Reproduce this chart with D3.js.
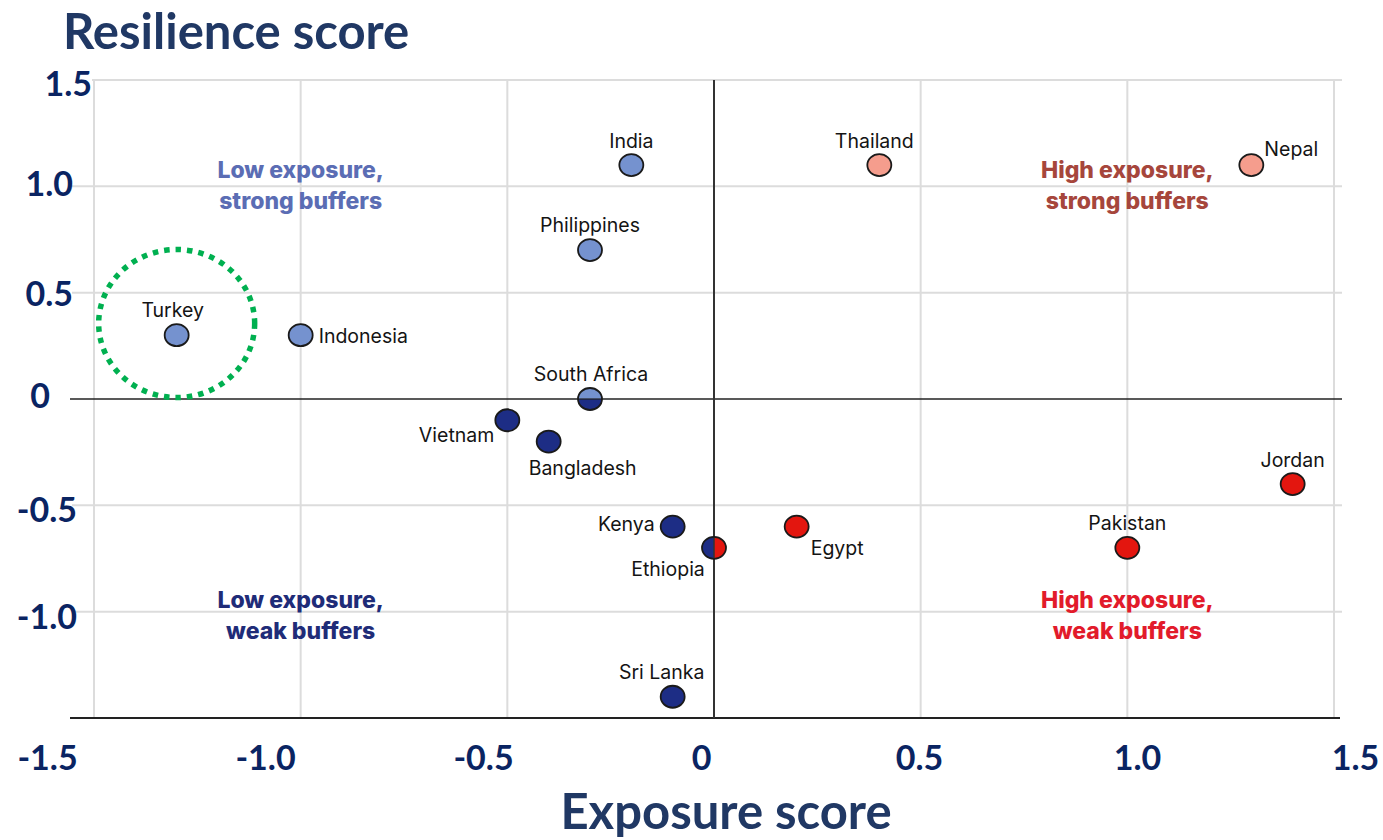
<!DOCTYPE html>
<html>
<head>
<meta charset="utf-8">
<script src="https://cdn.jsdelivr.net/npm/d3@7"></script>
<style>
  html, body { margin: 0; padding: 0; background: #fff; }
  svg { display: block; }
</style>
</head>
<body>
<svg id="chart" width="1383" height="840"></svg>
<script>
// ---------------- DATA ----------------
const countries  = ["India","Thailand","Nepal","Philippines","Turkey","Indonesia","South Africa","Vietnam","Bangladesh","Kenya","Ethiopia","Egypt","Pakistan","Jordan","Sri Lanka"];
const exposure   = [-0.2, 0.4, 1.3, -0.3, -1.3, -1.0, -0.3, -0.5, -0.4, -0.1, 0.0, 0.2, 1.0, 1.4, -0.1];
const resilience = [ 1.1, 1.1, 1.1,  0.7,  0.3,  0.3,  0.0, -0.1, -0.2, -0.6, -0.7, -0.6, -0.7, -0.4, -1.4];
// quadrant group of each country ("A/B" = split marker)
const groups     = ["LS","HS","HS","LS","LS","LS","LS/LW","LW","LW","LW","LW/HW","HW","HW","HW","LW"];

const xTicks = [-1.5, -1.0, -0.5, 0, 0.5, 1.0, 1.5];
const yTicks = [-1.0, -0.5, 0, 0.5, 1.0, 1.5];
const xTickLabels = ["-1.5","-1.0","-0.5","0","0.5","1.0","1.5"];
const yTickLabels = ["-1.0","-0.5","0","0.5","1.0","1.5"];

const quadrantKeys   = ["LS","HS","LW","HW"];
const quadrantLines  = [["Low exposure,","strong buffers"],["High exposure,","strong buffers"],["Low exposure,","weak buffers"],["High exposure,","weak buffers"]];
const quadrantAnchorX = [-1.0, 1.0, -1.0, 1.0];
const quadrantAnchorY = [1.0, 1.0, -1.0, -1.0];

const xTitle = "Exposure score";
const yTitle = "Resilience score";
const highlighted = "Turkey";

// ---------------- STYLE ----------------
const pointFill  = {LS:"#7592cf", HS:"#f59d8d", LW:"#1d2d85", HW:"#e3160f"};
const labelColor = {LS:"#5b6db4", HS:"#a6463c", LW:"#1f2c78", HW:"#e21b2b"};

const svg = d3.select("#chart");

const x = d3.scaleLinear().domain([-1.5, 1.5]).range([94, 1334]);
const y = d3.scaleLinear().domain([-1.5, 1.5]).range([718, 80]);
// outer tick-label axis (labels sit on their own slightly wider band)
const xLab = d3.scaleLinear().domain([-1.5, 1.5]).range([47, 1355]);

// grid
const grid = svg.append("g");
grid.selectAll("line.v").data(xTicks.filter(d => d !== 0)).join("line")
  .attr("x1", d => x(d)).attr("x2", d => x(d))
  .attr("y1", y(1.5)).attr("y2", y(-1.5))
  .attr("stroke", "#dcdcdc").attr("stroke-width", 2);
grid.selectAll("line.h").data(yTicks.filter(d => d !== 0)).join("line")
  .attr("x1", d => d === 1.5 ? x(-1.5) - 2 : 72).attr("x2", 1342)
  .attr("y1", d => y(d)).attr("y2", d => y(d))
  .attr("stroke", "#dcdcdc").attr("stroke-width", 2);

// axes lines
svg.append("line").attr("x1", 70).attr("x2", 1342).attr("y1", y(0)).attr("y2", y(0))
  .attr("stroke", "#222").attr("stroke-width", 1.6);
svg.append("line").attr("x1", 70).attr("x2", 1340).attr("y1", y(-1.5)).attr("y2", y(-1.5))
  .attr("stroke", "#222").attr("stroke-width", 2);
svg.append("line").attr("x1", x(0)).attr("x2", x(0)).attr("y1", y(1.5)).attr("y2", y(-1.5))
  .attr("stroke", "#333").attr("stroke-width", 2);

// tick labels - x
const xAxis = d3.axisBottom(xLab).tickValues(xTicks).tickSize(0)
  .tickFormat((d, i) => xTickLabels[i]);
const gx = svg.append("g").attr("transform", "translate(0,743)").call(xAxis);
gx.select(".domain").remove();
gx.selectAll("text")
  .attr("font-family", "Lato, 'Open Sans', sans-serif").attr("font-weight", 700)
  .attr("font-size", 34).attr("fill", "#0a2462").attr("y", 0).attr("dy", "0.8em");

// tick labels - y
const yAdj = {"1.5": [92, 4], "1": [73, -3], "0.5": [73, 1], "0": [50, -3], "-0.5": [77, 4], "-1": [77, 5]};
const yAxis = d3.axisLeft(y).tickValues(yTicks).tickSize(0)
  .tickFormat((d, i) => yTickLabels[i]);
const gy = svg.append("g").call(yAxis);
gy.select(".domain").remove();
gy.selectAll(".tick").attr("transform", d => `translate(${yAdj[String(d)][0]},${y(d) + yAdj[String(d)][1]})`);
gy.selectAll("text")
  .attr("font-family", "Lato, 'Open Sans', sans-serif").attr("font-weight", 700)
  .attr("font-size", 34).attr("fill", "#0a2462").attr("x", 0).attr("dy", "0.36em")
  .attr("text-anchor", "end");

// titles
svg.append("text").attr("x", 63).attr("y", 49).text(yTitle)
  .attr("font-family", "Lato, 'Open Sans', sans-serif").attr("font-weight", 700)
  .attr("font-size", 49).attr("fill", "#203864");
svg.append("text").attr("x", 726).attr("y", 829).attr("text-anchor", "middle").text(xTitle)
  .attr("font-family", "Lato, 'Open Sans', sans-serif").attr("font-weight", 700)
  .attr("font-size", 49).attr("fill", "#203864");

// quadrant labels
quadrantKeys.forEach((k, i) => {
  const top = quadrantAnchorY[i] > 0;
  const t = svg.append("text")
    .attr("x", x(quadrantAnchorX[i]))
    .attr("text-anchor", "middle")
    .attr("font-family", "Inter, 'Liberation Sans', sans-serif").attr("font-weight", 800)
    .attr("font-size", 23).attr("fill", labelColor[k]);
  quadrantLines[i].forEach((ln, j) => {
    t.append("tspan").attr("x", x(quadrantAnchorX[i]))
      .attr("y", y(quadrantAnchorY[i]) + (top ? -8 : -4) + j * 31).text(ln);
  });
});

// highlight ring
const hi = countries.indexOf(highlighted);
svg.append("ellipse")
  .attr("cx", x(exposure[hi])).attr("cy", y(resilience[hi] + 0.055))
  .attr("rx", 78).attr("ry", 74)
  .attr("fill", "none").attr("stroke", "#00b050").attr("stroke-width", 5.5)
  .attr("stroke-dasharray", "5.5 6");

// points
const rx = 12, ry = 11;
const pts = svg.append("g");
countries.forEach((c, i) => {
  const cx = x(exposure[i]), cy = y(resilience[i]);
  const g = groups[i];
  if (g.includes("/")) {
    const [a, b] = g.split("/");
    if (a === "LS") { // horizontal split: top / bottom
      pts.append("path").attr("d", `M${cx - rx},${cy} A${rx},${ry} 0 0 1 ${cx + rx},${cy} Z`).attr("fill", pointFill[a]);
      pts.append("path").attr("d", `M${cx - rx},${cy} A${rx},${ry} 0 0 0 ${cx + rx},${cy} Z`).attr("fill", pointFill[b]);
      pts.append("line").attr("x1", cx - rx).attr("x2", cx + rx).attr("y1", cy).attr("y2", cy).attr("stroke", "#222").attr("stroke-width", 1.2);
    } else { // vertical split: left / right
      pts.append("path").attr("d", `M${cx},${cy - ry} A${rx},${ry} 0 0 0 ${cx},${cy + ry} Z`).attr("fill", pointFill[a]);
      pts.append("path").attr("d", `M${cx},${cy - ry} A${rx},${ry} 0 0 1 ${cx},${cy + ry} Z`).attr("fill", pointFill[b]);
      pts.append("line").attr("x1", cx).attr("x2", cx).attr("y1", cy - ry).attr("y2", cy + ry).attr("stroke", "#333").attr("stroke-width", 1.5);
    }
    pts.append("ellipse").attr("cx", cx).attr("cy", cy).attr("rx", rx).attr("ry", ry)
      .attr("fill", "none").attr("stroke", "#1a1a1a").attr("stroke-width", 1.8);
  } else {
    pts.append("ellipse").attr("cx", cx).attr("cy", cy).attr("rx", rx).attr("ry", ry)
      .attr("fill", pointFill[g]).attr("stroke", "#1a1a1a").attr("stroke-width", 1.8);
  }
});

// point labels (placement offsets in px relative to marker)
const place = {
  "India":        ["middle", 0, -17],
  "Thailand":     ["middle", -5, -17],
  "Nepal":        ["start", 13, -9],
  "Philippines":  ["middle", 0, -18],
  "Turkey":       ["middle", -4, -18],
  "Indonesia":    ["start", 18, 8],
  "South Africa": ["middle", 1, -18],
  "Vietnam":      ["end", -13, 22],
  "Bangladesh":   ["middle", 34, 33],
  "Kenya":        ["end", -18, 4],
  "Ethiopia":     ["middle", -46, 28],
  "Egypt":        ["start", 14, 28],
  "Pakistan":     ["middle", 0, -18],
  "Jordan":       ["middle", 0, -17],
  "Sri Lanka":    ["middle", -11, -18]
};
svg.append("g").selectAll("text").data(countries).join("text")
  .attr("x", (d, i) => x(exposure[i]) + place[d][1])
  .attr("y", (d, i) => y(resilience[i]) + place[d][2])
  .attr("text-anchor", d => place[d][0])
  .attr("font-family", "Inter, 'Liberation Sans', sans-serif")
  .attr("font-size", 19.5).attr("fill", "#141414")
  .text(d => d);
</script>
</body>
</html>
